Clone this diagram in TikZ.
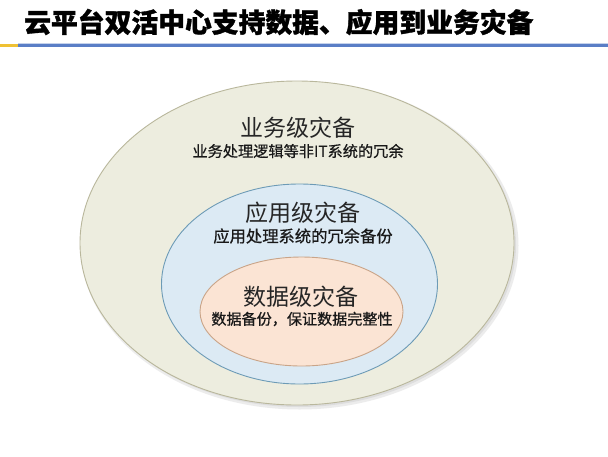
\documentclass[tikz,border=0pt]{standalone}
\usepackage{fontspec}
\newfontfamily\cjk{Noto Sans CJK SC}
\newfontfamily\cjkmed{Noto Sans CJK SC}[FakeBold=0.6]
\newfontfamily\cjkt{Noto Sans CJK SC}[BoldFeatures={FakeBold=1.2}]
\usetikzlibrary{shapes.geometric}
\definecolor{outerfill}{HTML}{EDEDDF}
\definecolor{outerline}{HTML}{B9B79C}
\definecolor{midfill}{HTML}{DCEAF4}
\definecolor{midline}{HTML}{6D9BB6}
\definecolor{innerfill}{HTML}{FBE4D4}
\definecolor{innerline}{HTML}{C9A488}
\definecolor{rulebluec}{HTML}{5A7EC6}
\definecolor{ruleyellow}{HTML}{EFC133}
\definecolor{shadowc}{HTML}{9A9A9A}
\tikzset{
  ring/.style={ellipse, draw, line width=0.9pt, inner sep=0pt},
  ringshadow/.style={ellipse, fill=shadowc, inner sep=0pt, draw=none},
  bigtxt/.style={font=\cjk\fontsize{23}{26}\selectfont, text=black!85, inner sep=0pt},
  smalltxt/.style={text=black!90, inner sep=0pt},
  titletxt/.style={font=\cjkt\bfseries\fontsize{26.8}{30}\selectfont, text=black, inner sep=0pt, anchor=west}
}
\begin{document}
\begin{tikzpicture}[x=1pt,y=-1pt]
\useasboundingbox[fill=white] (0,0) rectangle (608,456);
% title bar
\node[titletxt] (title) at (24,22) {云平台双活中心支持数据、应用到业务灾备};
\fill[rulebluec!35] (18,42.5) rectangle (608,43.5);
\fill[rulebluec] (18,43.5) rectangle (608,47);
\fill[ruleyellow] (0,43.5) rectangle (18,47);
% shadows
\node[ringshadow, opacity=0.18, minimum width=438pt, minimum height=328pt] (outersh1) at (299.5,245.5) {};
\node[ringshadow, opacity=0.18, minimum width=434pt, minimum height=324pt] (outersh2) at (299,245) {};
\node[ringshadow, opacity=0.15, minimum width=279pt, minimum height=203pt] (midsh) at (301,286) {};
\node[ringshadow, opacity=0.12, minimum width=205pt, minimum height=111pt] (innersh) at (303,313) {};
% ellipses
\node[ring, draw=outerline, fill=outerfill, minimum width=434pt, minimum height=324pt] (outer) at (297,243) {};
\node[ring, draw=midline, fill=midfill, minimum width=276pt, minimum height=200pt] (mid) at (299.5,284) {};
\node[ring, draw=innerline, fill=innerfill, minimum width=203pt, minimum height=109pt] (inner) at (301.5,311.5) {};
% labels
\node[bigtxt] (outert) at (298,128) {业务级灾备};
\node[smalltxt, font=\cjkmed\fontsize{15.2}{17}\selectfont] (outers) at (298,151) {业务处理逻辑等非IT系统的冗余};
\node[bigtxt] (midt) at (303,213) {应用级灾备};
\node[smalltxt, font=\cjkmed\fontsize{16.3}{18}\selectfont] (mids) at (303,236) {应用处理系统的冗余备份};
\node[bigtxt] (innert) at (301,297) {数据级灾备};
\node[smalltxt, font=\cjkmed\fontsize{15.1}{17}\selectfont] (inners) at (302,319) {数据备份，保证数据完整性};
\end{tikzpicture}
\end{document}
